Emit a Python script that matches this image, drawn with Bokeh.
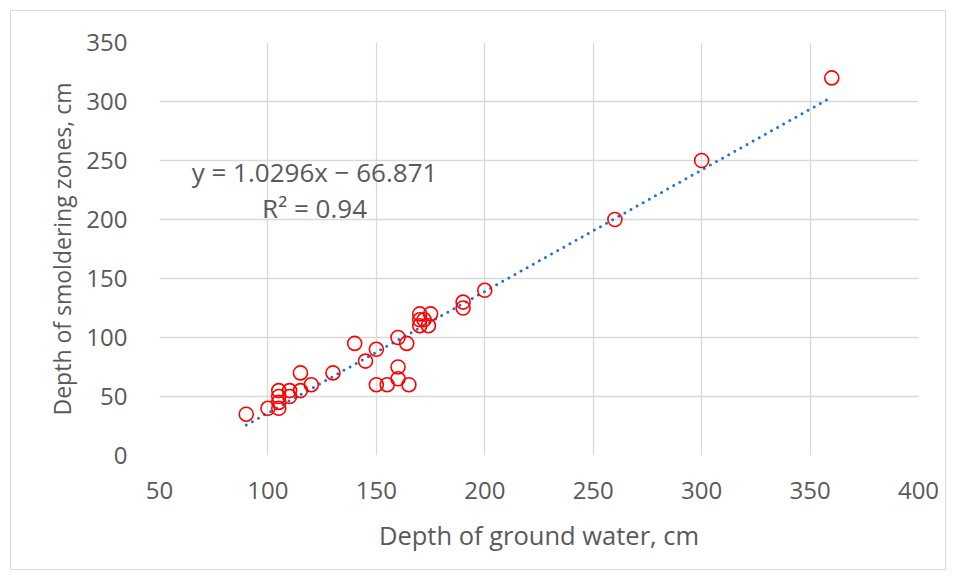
from bokeh.plotting import figure
from bokeh.models import Label, Range1d, FixedTicker
from bokeh.embed import file_html
from bokeh.resources import INLINE

# Data
ground_water = [90, 100, 105, 105, 105, 105, 110, 110, 115, 115, 120, 130,
                140, 145, 150, 150, 155, 160, 160, 160, 164, 165,
                170, 170, 170, 172, 174, 175, 190, 190, 200, 260, 300, 360]
smolder_depth = [35, 40, 40, 45, 50, 55, 55, 50, 55, 70, 60, 70,
                 95, 80, 90, 60, 60, 75, 65, 100, 95, 60,
                 120, 115, 110, 115, 110, 120, 130, 125, 140, 200, 250, 320]

slope = 1.0296
intercept = -66.871
r2_text = "R² = 0.94"
eq_text = "y = 1.0296x \u2212 66.871"
x_title = "Depth of ground water, cm"
y_title = "Depth of smoldering zones, cm"

x_ticks = [50, 100, 150, 200, 250, 300, 350, 400]
y_ticks = [0, 50, 100, 150, 200, 250, 300, 350]

FONT = "Open Sans"
GREY = "#595959"
FS = "24px"

W, H = 936, 560
p = figure(width=W, height=H, output_backend="svg", toolbar_location=None,
           x_range=Range1d(50, 400), y_range=Range1d(0, 350),
           min_border_left=148, min_border_right=29, min_border_top=31,
           min_border_bottom=116)
p.styles = {"border": "1px solid #d9d9d9", "margin": "10px"}
p.outline_line_color = None
p.background_fill_color = "white"
p.border_fill_color = "white"

for ax, ticks in ((p.xaxis[0], x_ticks), (p.yaxis[0], y_ticks)):
    ax.ticker = FixedTicker(ticks=ticks)
    ax.axis_line_color = None
    ax.major_tick_line_color = None
    ax.minor_tick_line_color = None
    ax.major_label_text_font = FONT
    ax.major_label_text_font_size = FS
    ax.major_label_text_color = GREY
    ax.axis_label_text_font = FONT
    ax.axis_label_text_color = GREY
    ax.axis_label_text_font_style = "normal"

p.xaxis.axis_label = x_title
p.xaxis.axis_label_text_font_size = "25.5px"
p.xaxis.major_label_standoff = 20
p.xaxis.axis_label_standoff = 16

p.yaxis.axis_label = y_title
p.yaxis.axis_label_text_font_size = "23px"
p.yaxis.major_label_standoff = 26
p.yaxis.axis_label_standoff = 5

p.grid.grid_line_color = "#d9d9d9"
p.grid.grid_line_width = 1.3
p.xgrid.ticker = FixedTicker(ticks=x_ticks)
p.ygrid.ticker = FixedTicker(ticks=y_ticks)

# Trend line from fitted coefficients
tx = [min(ground_water), max(ground_water)]
ty = [slope * v + intercept for v in tx]
p.line(tx, ty, line_color="#1f72c8", line_width=3, line_dash="0 7",
       line_cap="round")

p.scatter(ground_water, smolder_depth, marker="circle", size=14,
          fill_color=None, line_color="#ff0000", line_width=1.6)

p.add_layout(Label(x=121.5, y=240, text=eq_text, text_align="center",
                   text_baseline="middle", text_font=FONT,
                   text_font_size="26px", text_color=GREY))
p.add_layout(Label(x=121.5, y=210, text=r2_text, text_align="center",
                   text_baseline="middle", text_font=FONT,
                   text_font_size="26px", text_color=GREY))

open("out.html", "w").write(file_html(p, INLINE))
